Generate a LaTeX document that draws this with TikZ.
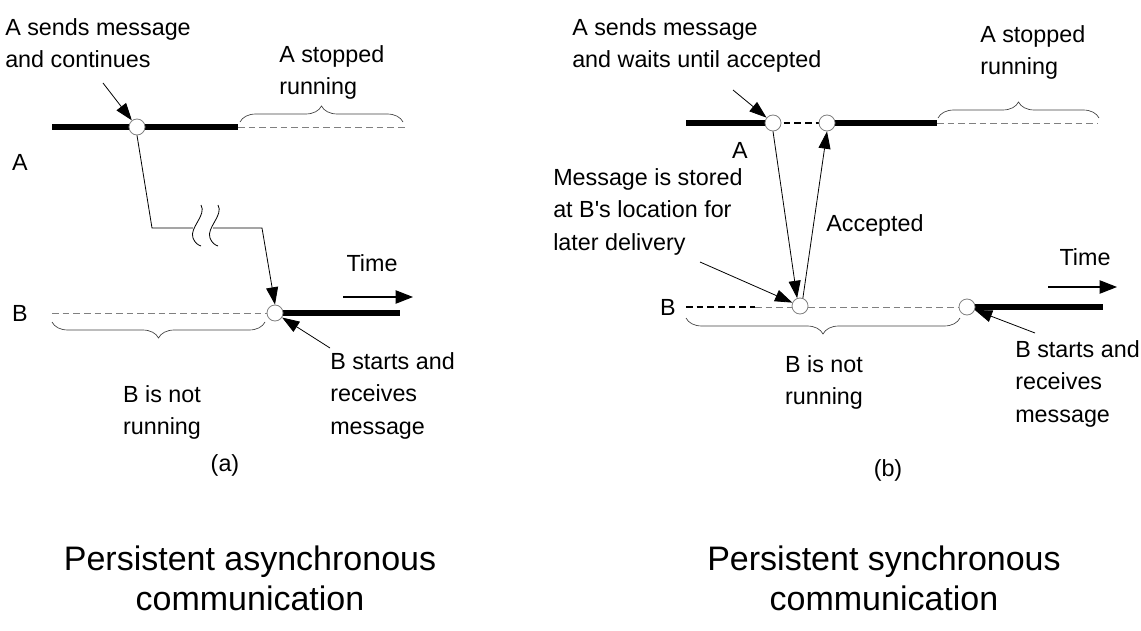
\documentclass[tikz,border=0pt]{standalone}
\usepackage{fontspec}
\setmainfont{Liberation Sans}
\usetikzlibrary{arrows.meta,decorations.pathreplacing}

\tikzset{
  lbl/.style={font=\fontsize{17.5}{24.5}\selectfont, align=left, inner sep=0pt},
  ttl/.style={font=\fontsize{25.5}{30}\selectfont, align=center, inner sep=0pt},
  run/.style={line width=5pt},
  idle/.style={gray, line width=0.6pt, dash pattern=on 5pt off 3pt},
  wait/.style={black, line width=0.8pt, dash pattern=on 5pt off 3pt},
  evt/.style={circle, draw=gray, fill=white, inner sep=0pt, minimum size=12pt, line width=0.6pt},
  msg/.style={line width=0.6pt, -{Triangle[length=13pt,width=9pt]}},
  tim/.style={line width=0.8pt, -{Triangle[length=13pt,width=10pt]}},
  brc/.style={decorate, decoration={brace, amplitude=12pt}, line width=0.5pt, black!75},
}

\begin{document}
\begin{tikzpicture}[x=0.75pt, y=-0.75pt]
\useasboundingbox (0,0) rectangle (1141,631);

% (a) persistent asynchronous
\draw(5,18) node[lbl, anchor=north west] (sendA) {A sends message\\and continues};
\draw(279,45) node[lbl, anchor=north west] (stopA) {A stopped\\running};
\draw(20,162) node[lbl] (labA) {A};
\draw(20,313) node[lbl] (labB) {B};
\draw(372,263) node[lbl] (timeA) {Time};
\draw(162,385) node[lbl, anchor=north, align=center] (idleB) {B is not\\running};
\draw(330,352) node[lbl, anchor=north west] (startB) {B starts and\\receives\\message};
\draw(225,465) node[lbl] (capA) {(a)};
\draw(250,578) node[ttl] (ttlA) {Persistent asynchronous\\communication};

\coordinate (a0) at (52,127);
\coordinate (a1) at (238,127);
\coordinate (a2) at (405,127);
\coordinate (b0) at (52,313);
\coordinate (b1) at (400,313);
\draw[run] (a0) -- (a1);
\draw[idle] (a1) -- (a2);
\draw[idle] (b0) -- (275,313);
\draw[run] (275,313) -- (b1);
\node[evt] (sa) at (137,127) {};
\node[evt] (rb) at (275,313) {};

\coordinate (m1) at (152,228);
\coordinate (m2) at (193,228);
\coordinate (m3) at (213,228);
\coordinate (m4) at (262,228);
\draw[line width=0.6pt] (sa.south) -- (m1) -- (m2);
\draw[msg] (m3) -- (m4) -- (rb.north);
\draw[line width=0.6pt] (201,205) .. controls (207,215) and (189,228) .. (193,238) .. controls (195,243) and (198,245) .. (201,246);
\draw[line width=0.6pt] (218,205) .. controls (224,215) and (206,228) .. (210,238) .. controls (212,243) and (215,245) .. (218,246);

\coordinate (pa) at (103,83);
\coordinate (pb) at (330,348);
\draw[msg] (pa) -- (sa);
\draw[msg] (pb) -- (rb);
\coordinate (t0) at (343,297);
\coordinate (t1) at (413,297);
\draw[tim] (t0) -- (t1);

\draw[brc] (240,122) -- (403,122);
\draw[brc] (265,322) -- (52,322);

% (b) persistent synchronous
\draw(572,18) node[lbl, anchor=north west] (sendS) {A sends message\\and waits until accepted};
\draw(980,25) node[lbl, anchor=north west] (stopS) {A stopped\\running};
\draw(740,150) node[lbl] (labSA) {A};
\draw(553,168) node[lbl, anchor=north west] (store) {Message is stored\\at B\textquotesingle s location for\\later delivery};
\draw(875,225) node[lbl] (acc) {Accepted};
\draw(668,307) node[lbl] (labSB) {B};
\draw(1085,257) node[lbl] (timeS) {Time};
\draw(824,355) node[lbl, anchor=north, align=center] (idleS) {B is not\\running};
\draw(1015,340) node[lbl, anchor=north west] (startS) {B starts and\\receives\\message};
\draw(888,470) node[lbl] (capB) {(b)};
\draw(884,578) node[ttl] (ttlB) {Persistent synchronous\\communication};

\coordinate (c0) at (686,123);
\coordinate (c1) at (937,123);
\coordinate (c2) at (1098,123);
\coordinate (d0) at (686,307);
\coordinate (d1) at (755,307);
\coordinate (d2) at (1103,307);
\draw[run] (c0) -- (773,123);
\draw[wait] (773,123) -- (827,123);
\draw[run] (827,123) -- (c1);
\draw[idle] (c1) -- (c2);
\draw[wait] (d0) -- (d1);
\draw[idle] (d1) -- (967,307);
\draw[run] (967,307) -- (d2);
\node[evt] (s1) at (773,123) {};
\node[evt] (s2) at (827,123) {};
\node[evt] (r1) at (800,306) {};
\node[evt] (r2) at (967,307) {};

\draw[msg] (s1.south) -- (r1.110);
\draw[msg] (r1.70) -- (s2.south);

\coordinate (pc) at (733,90);
\coordinate (pd) at (700,262);
\coordinate (pe) at (1035,333);
\draw[msg] (pc) -- (s1);
\draw[msg] (pd) -- (r1);
\draw[msg] (pe) -- (r2);
\coordinate (u0) at (1048,287);
\coordinate (u1) at (1117,287);
\draw[tim] (u0) -- (u1);

\draw[brc] (938,118) -- (1099,118);
\draw[brc] (960,318) -- (686,318);

\end{tikzpicture}
\end{document}
